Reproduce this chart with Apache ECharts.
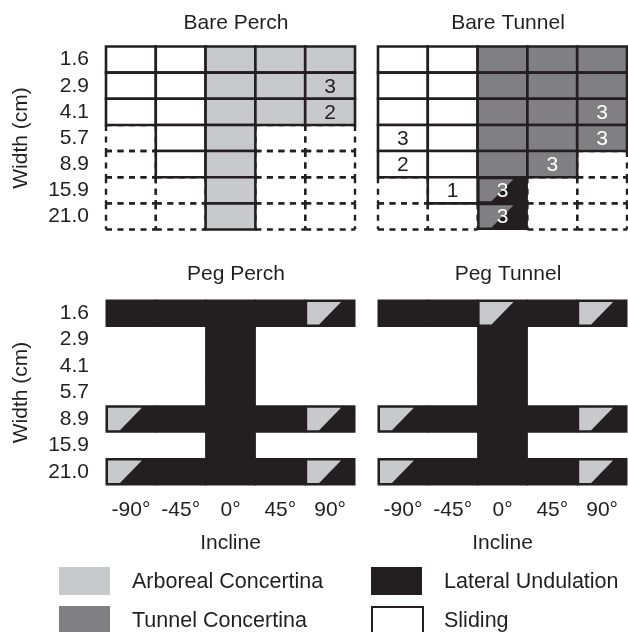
<!DOCTYPE html>
<html><head><meta charset="utf-8">
<script src="https://cdn.jsdelivr.net/npm/echarts@6/dist/echarts.min.js"></script>
<style>html,body{margin:0;padding:0;background:#fff}#c{width:628px;height:632px}</style>
</head><body><div id="c"></div>
<script>
// ---- data ----
const widths = ['1.6','2.9','4.1','5.7','8.9','15.9','21.0'];
const inclines = ['-90°','-45°','0°','45°','90°'];
const panelTitles = ['Bare Perch','Bare Tunnel','Peg Perch','Peg Tunnel'];
// codes: S Sliding, A Arboreal Concertina, T Tunnel Concertina, L Lateral Undulation,
// AL arboreal+lateral, TL tunnel+lateral, '-' tested / none (dashed), '' empty
const barePerchModes = [
  ['S','S','A','A','A'],
  ['S','S','A','A','A'],
  ['S','S','A','A','A'],
  ['-','S','A','-','-'],
  ['-','S','A','-','-'],
  ['-','-','A','-','-'],
  ['-','-','A','-','-']
];
const bareTunnelModes = [
  ['S','S','T','T','T'],
  ['S','S','T','T','T'],
  ['S','S','T','T','T'],
  ['S','S','T','T','T'],
  ['S','S','T','T','-'],
  ['-','S','TL','-','-'],
  ['-','-','TL','-','-']
];
const pegPerchModes = [
  ['L','L','L','L','AL'],
  ['','','L','',''],
  ['','','L','',''],
  ['','','L','',''],
  ['AL','L','L','L','AL'],
  ['','','L','',''],
  ['AL','L','L','L','AL']
];
const pegTunnelModes = [
  ['L','L','AL','L','AL'],
  ['','','L','',''],
  ['','','L','',''],
  ['','','L','',''],
  ['AL','L','L','L','AL'],
  ['','','L','',''],
  ['AL','L','L','L','AL']
];
// [column, row, count]
const barePerchCounts = [[4,1,3],[4,2,2]];
const bareTunnelCounts = [[4,2,3],[0,3,3],[4,3,3],[0,4,2],[3,4,3],[1,5,1],[2,5,3],[2,6,3]];
const pegPerchCounts = [];
const pegTunnelCounts = [];
const legendNames = ['Arboreal Concertina','Tunnel Concertina','Lateral Undulation','Sliding'];

// ---- style ----
const INK = '#231f20';
const COL = { A: '#c8c9cb', T: '#808082', L: INK, S: '#ffffff' };
const FONT = 'Liberation Sans, Arial, sans-serif';
const FS = 21;
const panels = [barePerchModes, bareTunnelModes, pegPerchModes, pegTunnelModes];
const counts = [barePerchCounts, bareTunnelCounts, pegPerchCounts, pegTunnelCounts];
const gridPos = [
  {left:106, top:46.5, width:249, height:183},
  {left:378, top:46.5, width:249, height:183},
  {left:106, top:300, width:249, height:185},
  {left:378, top:300, width:249, height:185}
];

function cellBox(api, c, r){
  const p = api.coord([c, r]);
  const s = api.size([1, 1]);
  return {x: p[0]-s[0]/2, y: p[1]-s[1]/2, w: s[0], h: s[1]};
}

const series = [];
panels.forEach((modes, pi) => {
  const dashed = [], filled = [];
  modes.forEach((row, r) => row.forEach((m, c) => {
    if (m === '-') dashed.push({value:[c, r], mode:m});
    else if (m) filled.push({value:[c, r], mode:m});
  }));
  const cnt = {};
  counts[pi].forEach(d => { cnt[d[0] + '_' + d[1]] = d[2]; });

  series.push({
    type:'custom', xAxisIndex:pi, yAxisIndex:pi, z:2, silent:true,
    data: dashed.map(d => d.value),
    renderItem: function(params, api){
      const b = cellBox(api, api.value(0), api.value(1));
      const st = {stroke:INK, lineWidth:2.4, lineDash:[6,5.5], fill:null};
      const x1 = b.x + b.w, y1 = b.y + b.h;
      return {type:'group', children:[
        {type:'line', shape:{x1:b.x,y1:b.y,x2:x1,y2:b.y}, style:st},
        {type:'line', shape:{x1:b.x,y1:y1,x2:x1,y2:y1}, style:st},
        {type:'line', shape:{x1:b.x,y1:b.y,x2:b.x,y2:y1}, style:st},
        {type:'line', shape:{x1:x1,y1:b.y,x2:x1,y2:y1}, style:st}
      ]};
    }
  });

  series.push({
    type:'custom', xAxisIndex:pi, yAxisIndex:pi, z:3, silent:true,
    data: filled.map(d => d.value),
    renderItem: function(params, api){
      const item = filled[params.dataIndex];
      const c = api.value(0), r = api.value(1);
      const b = cellBox(api, c, r);
      const m = item.mode;
      const ch = [];
      if (m === 'L') {
        ch.push({type:'rect', shape:{x:b.x-0.5, y:b.y-0.5, width:b.w+1, height:b.h+1}, style:{fill:COL.L}});
      } else if (m === 'AL' || m === 'TL') {
        ch.push({type:'rect', shape:{x:b.x-0.5, y:b.y-0.5, width:b.w+1, height:b.h+1}, style:{fill:COL.L}});
        const ins = 2;
        const yt = b.y + ins, yb = b.y + b.h - ins, xl = b.x + ins;
        ch.push({type:'polygon', shape:{points:[[xl,yt],[b.x+0.72*b.w,yt],[b.x+0.28*b.w,yb],[xl,yb]]},
          style:{fill: m === 'AL' ? COL.A : COL.T}});
      } else {
        ch.push({type:'rect', shape:{x:b.x, y:b.y, width:b.w, height:b.h},
          style:{fill:COL[m], stroke:INK, lineWidth:2.6}});
      }
      const k = cnt[c + '_' + r];
      if (k !== undefined) {
        ch.push({type:'text', x:b.x + b.w/2, y:b.y + b.h/2 + 1, style:{
          text:String(k), fill:(m === 'S' || m === 'A' || m === 'AL') ? INK : '#ffffff',
          font:FS + 'px ' + FONT, align:'center', verticalAlign:'middle'}});
      }
      return {type:'group', children:ch};
    }
  });
});

const xAxes = gridPos.map((g, i) => ({
  type:'category', gridIndex:i, data:inclines,
  axisLine:{show:false}, axisTick:{show:false}, splitLine:{show:false},
  axisLabel:{show:i >= 2, interval:0, hideOverlap:false, color:INK, fontSize:FS, fontFamily:FONT, margin:15},
  name: i >= 2 ? 'Incline' : '', nameLocation:'middle', nameGap:48,
  nameTextStyle:{color:INK, fontSize:FS, fontFamily:FONT}
}));
const yAxes = gridPos.map((g, i) => ({
  type:'category', gridIndex:i, data:widths, inverse:true,
  axisLine:{show:false}, axisTick:{show:false}, splitLine:{show:false},
  axisLabel:{show:i % 2 === 0, interval:0, hideOverlap:false, color:INK, fontSize:FS, fontFamily:FONT, margin:17},
  name: i % 2 === 0 ? 'Width (cm)' : '', nameLocation:'middle', nameGap:74, nameRotate:90,
  nameTextStyle:{color:INK, fontSize:FS, fontFamily:FONT}
}));

const titleCenters = [[231,8],[503,8],[231,259],[503,259]];
const titles = panelTitles.map((t, i) => ({
  text:t, left:titleCenters[i][0], top:titleCenters[i][1], textAlign:'center',
  textStyle:{color:INK, fontSize:FS, fontWeight:'normal', fontFamily:FONT}
}));

const legendFill = [COL.A, COL.T, COL.L, COL.S];
const legendPos = [[59,567],[59,606],[371,567],[371,606]];
const graphic = [];
legendNames.forEach((n, i) => {
  const [x, y] = legendPos[i];
  graphic.push({type:'rect', left:x, top:y, silent:true,
    shape:{width:51, height:28},
    style:{fill:legendFill[i], stroke: i === 3 ? INK : null, lineWidth: i === 3 ? 2 : 0}});
  graphic.push({type:'text', left:x + 73, top:y + 4, silent:true,
    style:{text:n, fill:INK, font:'21.5px ' + FONT}});
});

const chart = echarts.init(document.getElementById('c'), null, {renderer:'canvas'});
chart.setOption({
  animation:false,
  backgroundColor:'#ffffff',
  title:titles,
  grid:gridPos.map(g => Object.assign({containLabel:false}, g)),
  xAxis:xAxes,
  yAxis:yAxes,
  series:series,
  graphic:graphic
});
</script>
</body></html>
